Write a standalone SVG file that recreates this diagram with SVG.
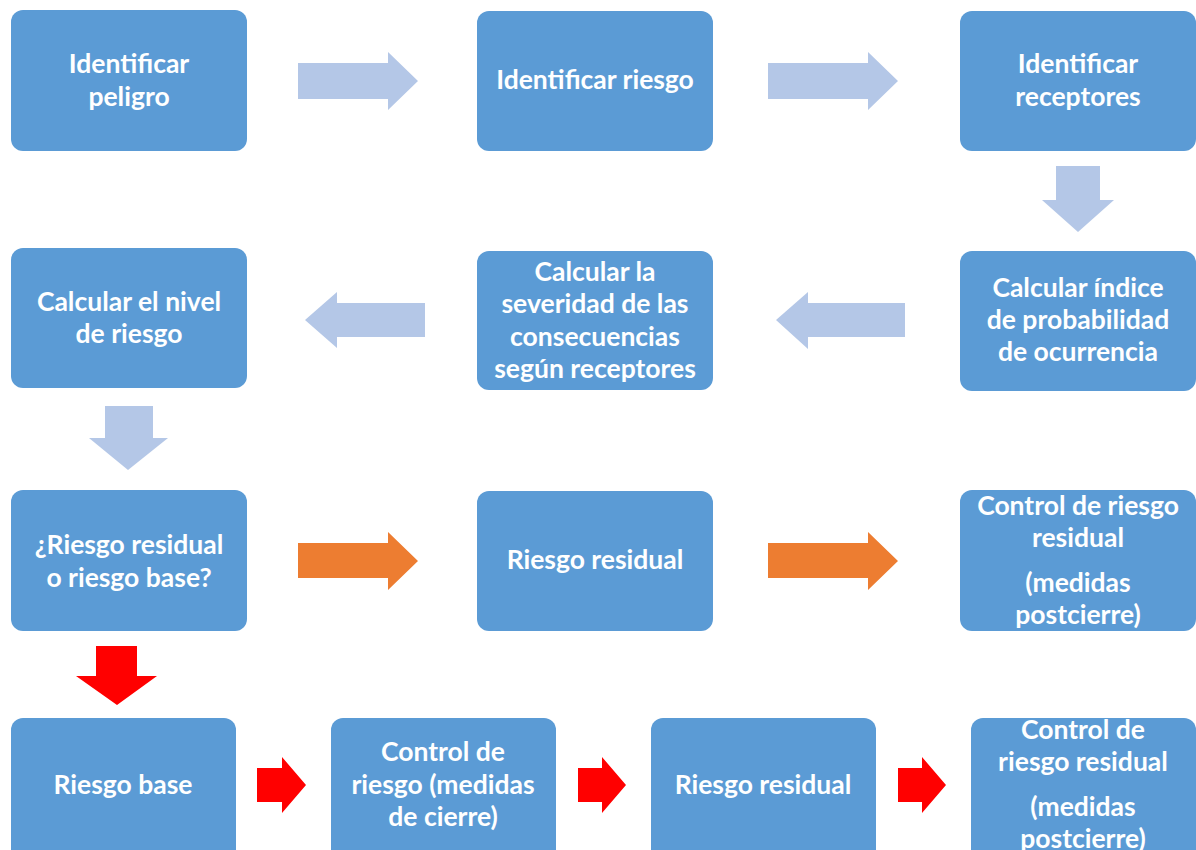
<svg xmlns="http://www.w3.org/2000/svg" width="1196" height="850" viewBox="0 0 1196 850">
<style>
.box{fill:#5B9BD5;}
.t{font-family:Lato,"Open Sans","Liberation Sans",sans-serif;font-weight:bold;font-size:26.5px;fill:#fff;text-anchor:middle;}
.lb{fill:#B4C7E7;}
.or{fill:#ED7D31;}
.rd{fill:#FF0000;}
</style>
<rect width="1196" height="850" fill="#fff"/>
<g id="connectors">
<polygon class="lb" points="298,63 388,63 388,52 418,81 388,110 388,99 298,99"/>
<polygon class="lb" points="768,63 868,63 868,52 898,81 868,110 868,99 768,99"/>
<polygon class="lb" points="1056,166 1100,166 1100,200 1114,200 1078,232 1042,200 1056,200"/>
<polygon class="lb" points="905,303 808,303 808,292 776,320 808,349 808,337 905,337"/>
<polygon class="lb" points="425,303 337,303 337,292 305,320 337,348 337,337 425,337"/>
<polygon class="lb" points="105,406 153,406 153,438 168,438 128,470 89,438 105,438"/>
<polygon class="or" points="298,543 388,543 388,532 418,561 388,590 388,578 298,578"/>
<polygon class="or" points="768,543 868,543 868,532 898,561 868,590 868,578 768,578"/>
<polygon class="rd" points="96,646 137,646 137,676 157,676 117,705 76,676 96,676"/>
<polygon class="rd" points="257,768 282,768 282,757 306,785 282,813 282,802 257,802"/>
<polygon class="rd" points="578,768 602,768 602,757 626,785 602,813 602,802 578,802"/>
<polygon class="rd" points="898,768 922,768 922,757 946,785 922,813 922,802 898,802"/>
</g>
<g id="n1"><rect class="box" x="11" y="10" width="236" height="141" rx="12"/><text class="t" x="129" y="73">Identificar</text><text class="t" x="129" y="106">peligro</text></g>
<g id="n2"><rect class="box" x="477" y="11" width="236" height="140" rx="12"/><text class="t" x="595" y="89">Identificar riesgo</text></g>
<g id="n3"><rect class="box" x="960" y="11" width="236" height="140" rx="12"/><text class="t" x="1078" y="73">Identificar</text><text class="t" x="1078" y="106">receptores</text></g>
<g id="n4"><rect class="box" x="11" y="248" width="236" height="140" rx="12"/><text class="t" x="129" y="311">Calcular el nivel</text><text class="t" x="129" y="343">de riesgo</text></g>
<g id="n5"><rect class="box" x="477" y="251" width="236" height="139" rx="12"/><text class="t" x="595" y="281">Calcular la</text><text class="t" x="595" y="313">severidad de las</text><text class="t" x="595" y="346">consecuencias</text><text class="t" x="595" y="378">según receptores</text></g>
<g id="n6"><rect class="box" x="960" y="251" width="236" height="140" rx="12"/><text class="t" x="1078" y="297">Calcular índice</text><text class="t" x="1078" y="329">de probabilidad</text><text class="t" x="1078" y="361">de ocurrencia</text></g>
<g id="n7"><rect class="box" x="11" y="490" width="236" height="141" rx="12"/><text class="t" x="129" y="554">¿Riesgo residual</text><text class="t" x="129" y="587">o riesgo base?</text></g>
<g id="n8"><rect class="box" x="477" y="491" width="236" height="140" rx="12"/><text class="t" x="595" y="569">Riesgo residual</text></g>
<g id="n9"><rect class="box" x="960" y="490" width="236" height="141" rx="12"/><text class="t" x="1078" y="515">Control de riesgo</text><text class="t" x="1078" y="547">residual</text><text class="t" x="1078" y="592">(medidas</text><text class="t" x="1078" y="624">postcierre)</text></g>
<g id="n10"><rect class="box" x="11" y="718" width="225" height="150" rx="12"/><text class="t" x="123" y="794">Riesgo base</text></g>
<g id="n11"><rect class="box" x="331" y="718" width="225" height="150" rx="12"/><text class="t" x="443" y="761">Control de</text><text class="t" x="443" y="794">riesgo (medidas</text><text class="t" x="443" y="826">de cierre)</text></g>
<g id="n12"><rect class="box" x="651" y="718" width="225" height="150" rx="12"/><text class="t" x="763" y="794">Riesgo residual</text></g>
<g id="n13"><rect class="box" x="971" y="718" width="225" height="150" rx="12"/><text class="t" x="1083" y="739">Control de</text><text class="t" x="1083" y="771">riesgo residual</text><text class="t" x="1083" y="816">(medidas</text><text class="t" x="1083" y="848">postcierre)</text></g>
</svg>
